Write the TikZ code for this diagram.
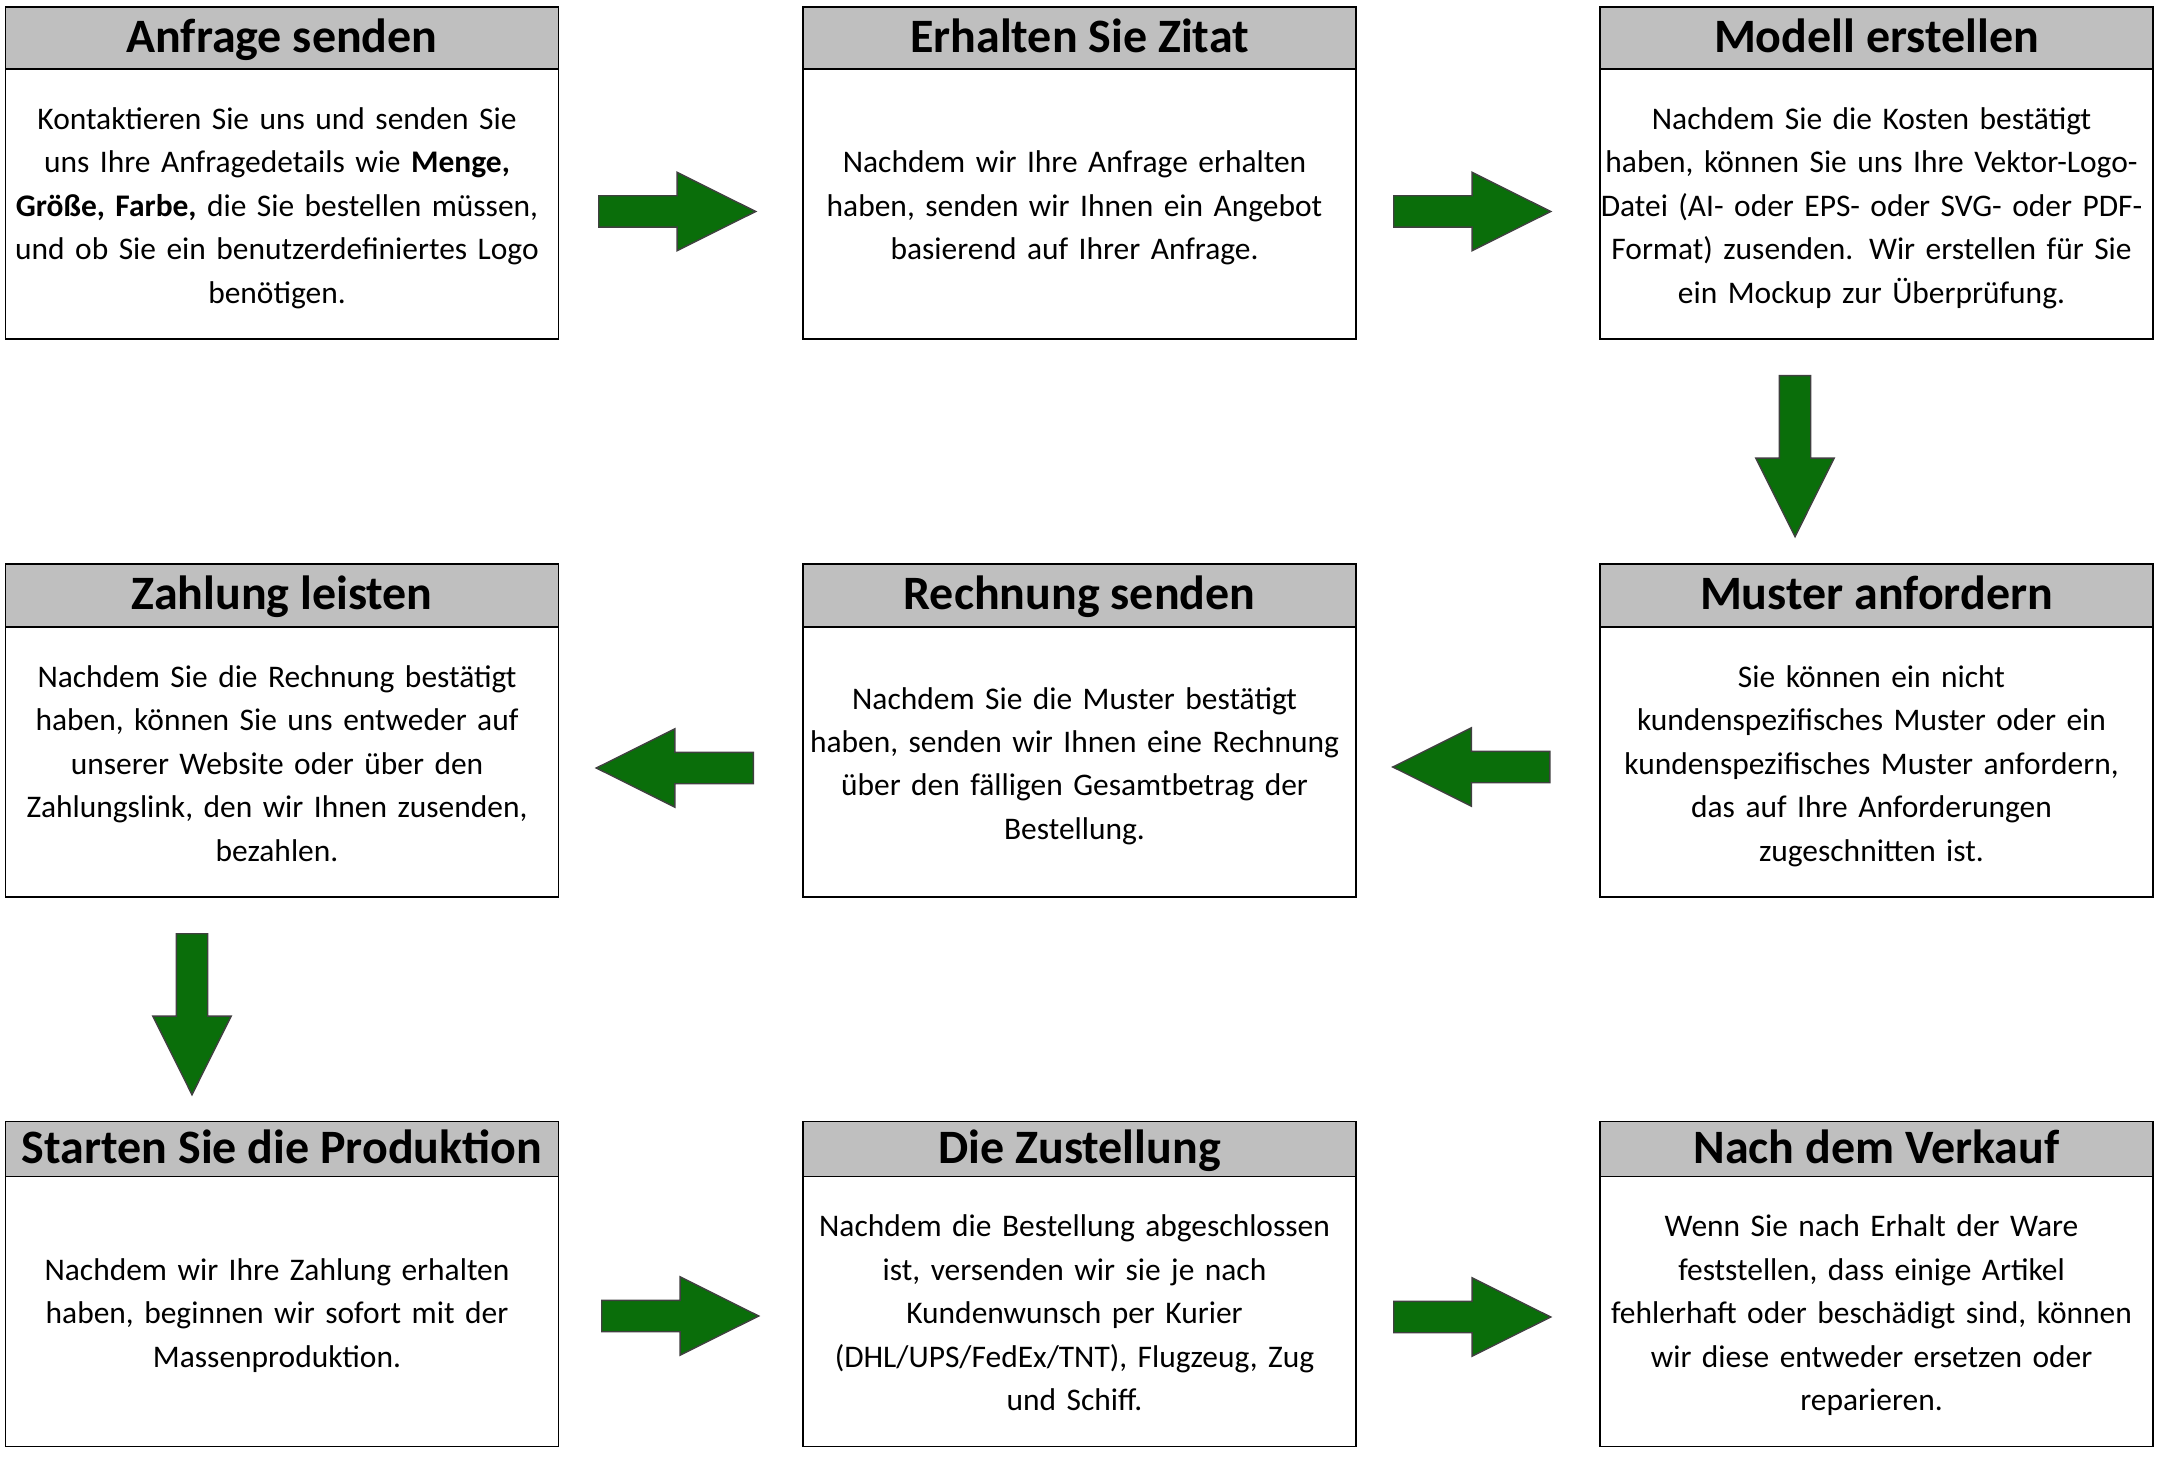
\documentclass[tikz,border=0pt]{standalone}
\usepackage{fontspec}
\setmainfont{Carlito}
\usetikzlibrary{positioning,calc,shapes.arrows}
\definecolor{headgray}{RGB}{191,191,191}
\definecolor{arrowgreen}{RGB}{10,110,10}

\begin{document}
\begin{tikzpicture}[body node/.style={draw,rectangle,line width=0.5pt,outer sep=0pt,inner sep=0pt,text width=5.53cm,minimum height=2.70cm,align=center,font=\fontsize{8.95}{12.35}\selectfont,
        execute at begin node={\leftskip=0pt plus 1fil\rightskip=0.1cm plus 1fil\parfillskip=0pt\hyphenpenalty=10000\exhyphenpenalty=10000\rule{0pt}{10.7pt}},execute at end node={\strut}},
    head node/.style={draw,rectangle,fill=headgray,line width=0.5pt,outer sep=0pt,inner sep=0pt,minimum width=5.53cm,minimum height=0.62cm,text height=0.8em,text depth=0pt,font=\fontsize{13.65}{16}\selectfont\bfseries},
    arrow node/.style={single arrow,draw=black!75,fill=arrowgreen,line width=0.4pt,anchor=tail,inner xsep=0pt,inner ysep=0.15cm,minimum height=1.57cm,single arrow head extend=0.235cm,single arrow tip angle=53},
    down arrow/.style={arrow node,shape border rotate=270,inner xsep=0.15cm,inner ysep=0pt,minimum height=1.61cm}]
    \useasboundingbox (0,0) rectangle (21.59,-14.61);

    % first row
    \node[body node] at (2.82,-2.04) (s1) {Kontaktieren Sie uns und senden Sie\\uns Ihre Anfragedetails wie \textbf{Menge,}\\\textbf{Größe, Farbe,} die Sie bestellen müssen,\\und ob Sie ein benutzerdefiniertes Logo\\benötigen.};
    \node[body node] at (10.795,-2.04) (s2) {Nachdem wir Ihre Anfrage erhalten\\haben, senden wir Ihnen ein Angebot\\basierend auf Ihrer Anfrage.};
    \node[body node] at (18.765,-2.04) (s3) {Nachdem Sie die Kosten bestätigt\\haben, können Sie uns Ihre Vektor-Logo-\\Datei (AI- oder EPS- oder SVG- oder PDF-\\Format) zusenden. Wir erstellen für Sie\\ein Mockup zur Überprüfung.};
    \node[head node, above=0pt of s1] (t1) {Anfrage senden};
    \node[head node, above=0pt of s2] (t2) {Erhalten Sie Zitat};
    \node[head node, above=0pt of s3] (t3) {Modell erstellen};

    % second row
    \node[body node] at (18.765,-7.62) (s4) {Sie können ein nicht\\kundenspezifisches Muster oder ein\\kundenspezifisches Muster anfordern,\\das auf Ihre Anforderungen\\zugeschnitten ist.};
    \node[body node] at (10.795,-7.62) (s5) {Nachdem Sie die Muster bestätigt\\haben, senden wir Ihnen eine Rechnung\\über den fälligen Gesamtbetrag der\\Bestellung.};
    \node[body node] at (2.82,-7.62) (s6) {Nachdem Sie die Rechnung bestätigt\\haben, können Sie uns entweder auf\\unserer Website oder über den\\Zahlungslink, den wir Ihnen zusenden,\\bezahlen.};
    \node[head node, above=0pt of s4, minimum height=0.63cm] (t4) {Muster anfordern};
    \node[head node, above=0pt of s5, minimum height=0.63cm] (t5) {Rechnung senden};
    \node[head node, above=0pt of s6, minimum height=0.63cm] (t6) {Zahlung leisten};

    % third row
    \node[body node] at (2.82,-13.115) (s7) {Nachdem wir Ihre Zahlung erhalten\\haben, beginnen wir sofort mit der\\Massenproduktion.};
    \node[body node] at (10.795,-13.115) (s8) {Nachdem die Bestellung abgeschlossen\\ist, versenden wir sie je nach\\Kundenwunsch per Kurier\\(DHL/UPS/FedEx/TNT), Flugzeug, Zug\\und Schiff.};
    \node[body node] at (18.765,-13.115) (s9) {Wenn Sie nach Erhalt der Ware\\feststellen, dass einige Artikel\\fehlerhaft oder beschädigt sind, können\\wir diese entweder ersetzen oder\\reparieren.};
    \node[head node, above=0pt of s7, minimum height=0.55cm] (t7) {Starten Sie die Produktion};
    \node[head node, above=0pt of s8, minimum height=0.55cm] (t8) {Die Zustellung};
    \node[head node, above=0pt of s9, minimum height=0.55cm] (t9) {Nach dem Verkauf};

    % arrows
    \node[arrow node] at ($(s1.east)+(0.395,-0.075)$) (a1) {};
    \node[arrow node] at ($(s2.east)+(0.37,-0.075)$) (a2) {};
    \node[down arrow] at ($(s3.south)+(-0.815,-0.36)$) (a3) {};
    \node[arrow node, shape border rotate=180] at ($(s4.west)+(-0.495,-0.05)$) (a4) {};
    \node[arrow node, shape border rotate=180] at ($(s5.west)+(-0.49,-0.06)$) (a5) {};
    \node[down arrow] at ($(s6.south)+(-0.90,-0.36)$) (a6) {};
    \node[arrow node] at ($(s7.east)+(0.425,-0.045)$) (a7) {};
    \node[arrow node] at ($(s8.east)+(0.37,-0.055)$) (a8) {};
\end{tikzpicture}
\end{document}
